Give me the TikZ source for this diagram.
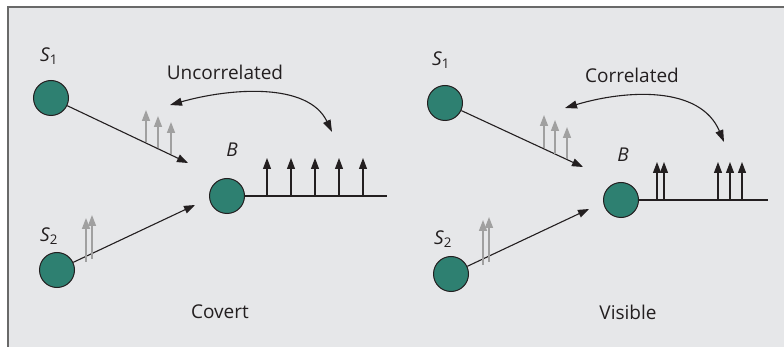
\documentclass[tikz,border=0pt]{standalone}
\usepackage{fontspec}
\setmainfont{Open Sans}
\usetikzlibrary{arrows.meta}
\definecolor{panelgray}{RGB}{230,231,233}
\definecolor{framegray}{RGB}{105,105,105}
\definecolor{bubble}{RGB}{46,128,113}
\definecolor{ghost}{RGB}{160,160,160}
\definecolor{ink}{RGB}{35,31,32}
\begin{document}
\begin{tikzpicture}[x=1pt,y=-1pt,
  every node/.style={font=\fontsize{19}{22}\selectfont, text=ink},
  station/.style={circle, draw=ink, fill=bubble, line width=1pt, minimum size=35pt, inner sep=0pt},
  link/.style={draw=ink, line width=1.1pt, -{Triangle[length=11pt,width=8pt]}},
  swing/.style={draw=ink, line width=1.1pt, {Triangle[length=12pt,width=8pt]}-{Triangle[length=12pt,width=8pt]}},
  pulse/.style={draw=ink, line width=1.1pt, -{Triangle[length=11pt,width=8pt]}},
  echo/.style={draw=ghost, line width=1.5pt, -{Triangle[length=11pt,width=8pt]}}]
\useasboundingbox (0,0) rectangle (784,347);
\fill[panelgray] (8,7) rectangle (784,347);
\draw[framegray, line width=2pt] (8,347) -- (8,7) -- (784,7);

\node[station] (s1l) at (51,98) {};
\node[station] (s2l) at (57,270) {};
\node[station] (bl) at (227,196) {};
\node (s1ltxt) at (49,56) {\textit{S}\textsubscript{1}};
\node (s2ltxt) at (49,236) {\textit{S}\textsubscript{2}};
\node (bltxt) at (232,150) {\textit{B}};
\node (uncor) at (225,72) {Uncorrelated};
\node (covert) at (220,312) {Covert};
\coordinate (s1lin) at (188,163);
\coordinate (s2lin) at (195,205);
\coordinate (blend) at (387,196);
\coordinate (ul) at (170,105);
\coordinate (ur) at (332,132);
\draw[link] (s1l) -- (s1lin);
\draw[link] (s2l) -- (s2lin);
\draw[ink, line width=1.1pt] (bl) -- (blend);
\foreach \x in {267,291,315,339,363}
  \draw[pulse] (\x,196) -- (\x,158);
\draw[echo] (146,142) -- (146,110);
\draw[echo] (158,148) -- (158,116);
\draw[echo] (171,154) -- (171,122);
\draw[echo] (86,262) -- (86,218);
\draw[echo] (92,259) -- (92,215);
\draw[swing] (ul) .. controls (230,88) and (308,82) .. (ur);

\node[station] (s1r) at (445,103) {};
\node[station] (s2r) at (451,274) {};
\node[station] (br) at (621,200) {};
\node (s1rtxt) at (441,60) {\textit{S}\textsubscript{1}};
\node (s2rtxt) at (443,239) {\textit{S}\textsubscript{2}};
\node (brtxt) at (623,155) {\textit{B}};
\node (cor) at (632,75) {Correlated};
\node (visible) at (628,312) {Visible};
\coordinate (s1rin) at (583,167);
\coordinate (s2rin) at (589,209);
\coordinate (brend) at (768,200);
\coordinate (cl) at (565,108);
\coordinate (cr) at (724,142);
\draw[link] (s1r) -- (s1rin);
\draw[link] (s2r) -- (s2rin);
\draw[ink, line width=1.1pt] (br) -- (brend);
\foreach \x in {657,664,718,730,742}
  \draw[pulse] (\x,200) -- (\x,162);
\draw[echo] (544,148) -- (544,115);
\draw[echo] (555,154) -- (555,120);
\draw[echo] (567,159) -- (567,127);
\draw[echo] (483,265) -- (483,220);
\draw[echo] (489,262) -- (489,217);
\draw[swing] (cl) .. controls (625,90) and (700,85) .. (cr);
\end{tikzpicture}
\end{document}
